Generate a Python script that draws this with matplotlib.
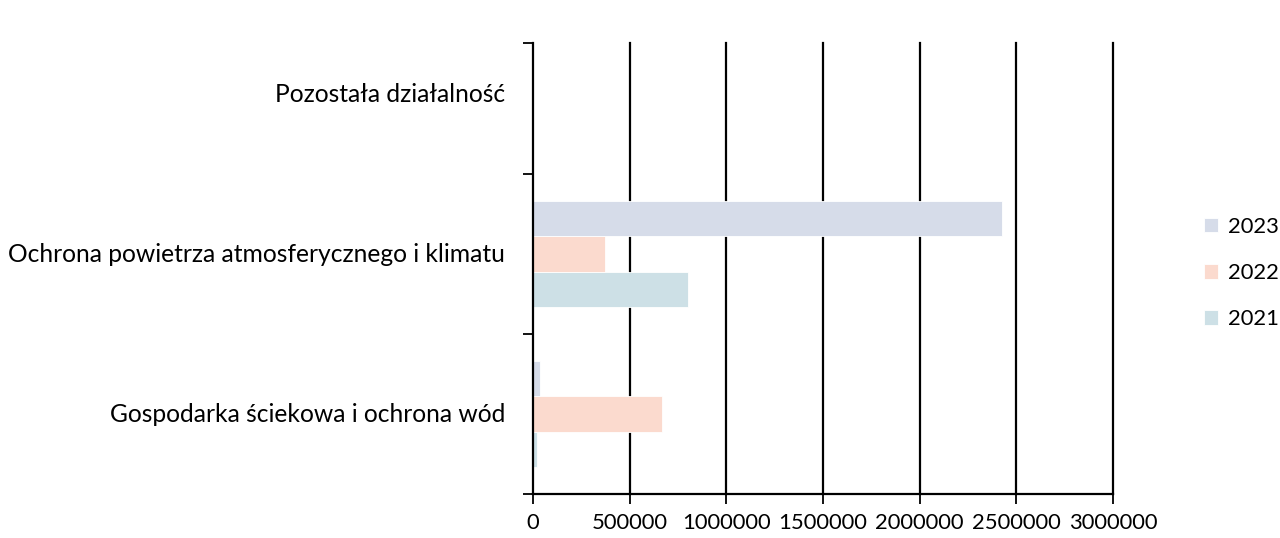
import matplotlib
matplotlib.use("Agg")
import matplotlib.pyplot as plt
import numpy as np

categories = ["Gospodarka ściekowa i ochrona wód",
              "Ochrona powietrza atmosferycznego i klimatu",
              "Pozostała działalność"]
years = ["2021", "2022", "2023"]
values_2021 = [22000, 803000, 0]
values_2022 = [669000, 372000, 0]
values_2023 = [36000, 2424000, 0]
colors = {"2021": "#CDE0E6", "2022": "#FBDACE", "2023": "#D6DCE9"}
xticks = [0, 500000, 1000000, 1500000, 2000000, 2500000, 3000000]

plt.rcParams['font.family'] = ['Lato', 'DejaVu Sans']
FS_CAT = 17.7
FS_NUM = 15.8

fig = plt.figure(figsize=(12.8, 5.38), dpi=100)
ax = fig.add_axes([0.4164, 0.0818, 0.8695 - 0.4164, 0.920 - 0.0818])

y = np.arange(len(categories))
h = 0.222
series = {"2021": values_2021, "2022": values_2022, "2023": values_2023}
offsets = {"2021": -h, "2022": 0.0, "2023": h}
handles = {}
for yr in years:
    handles[yr] = ax.barh(y + offsets[yr], series[yr], height=h, color=colors[yr],
                          edgecolor="white", linewidth=0.6, label=yr, zorder=2)

ax.set_xlim(0, 3000000)
ax.set_ylim(-0.5, 2.32)
ax.set_xticks(xticks)
ax.set_xticklabels([str(v) for v in xticks], fontsize=FS_NUM)
ax.set_yticks([-0.5, 0.5, 1.5, 2.32])
ax.set_yticklabels([])
ax.tick_params(axis='y', length=7, width=1.3, direction='out')
ax.tick_params(axis='x', length=7, width=1.3, direction='out', pad=7)
for v in xticks[1:]:
    ax.axvline(v, color="black", linewidth=1.6, zorder=1, clip_on=False)
for sp in ["top", "right"]:
    ax.spines[sp].set_visible(False)
ax.spines["left"].set_linewidth(1.6)
ax.spines["bottom"].set_linewidth(1.6)
ax.spines["left"].set_zorder(3)

for yi, cat in zip(y, categories):
    ax.text(-0.048, yi, cat, transform=ax.get_yaxis_transform(), ha="right",
            va="center", fontsize=FS_CAT)

leg = fig.legend(handles=[handles["2023"], handles["2022"], handles["2021"]],
                 labels=["2023", "2022", "2021"], loc="center left",
                 bbox_to_anchor=(1204 / 1280, 1 - 273 / 538), frameon=False,
                 fontsize=FS_NUM, borderpad=0, borderaxespad=0,
                 handlelength=0.66, handleheight=0.66, handletextpad=0.42,
                 labelspacing=1.2)

fig.savefig("out.png", dpi=100)
